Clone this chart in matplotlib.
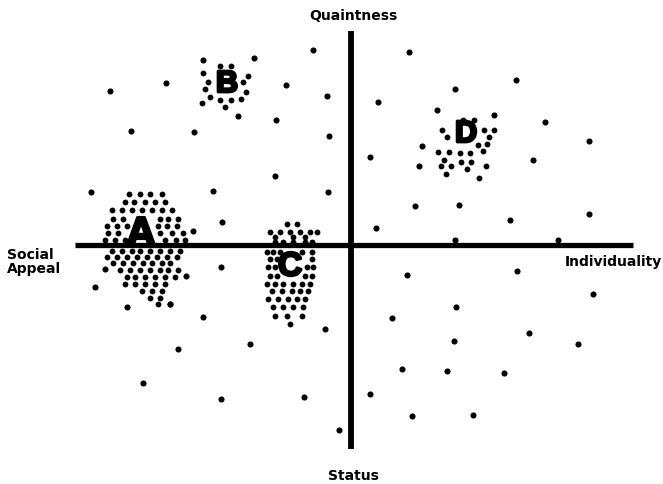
import numpy as np
import matplotlib.pyplot as plt
import matplotlib.patheffects as pe

# perceptual map, coordinates (pixel space, y down)
scatter_x = [110, 166, 203, 254, 313, 286, 327, 131, 194, 238, 276, 329, 91, 213, 275, 328, 222, 193,
             409, 516, 455, 378, 437, 494, 545, 589, 370, 422, 419, 533, 415, 459, 510, 589, 376, 455, 558,
             105, 95, 221, 186, 127, 170, 203, 178, 250, 325, 143, 221, 304, 339,
             407, 517, 593, 456, 392, 529, 578, 454, 402, 447, 504, 370, 412, 473]
scatter_y = [92, 84, 61, 59, 51, 86, 97, 132, 133, 117, 121, 137, 193, 192, 177, 193, 223, 232,
             53, 81, 90, 103, 111, 116, 123, 142, 158, 147, 167, 161, 207, 206, 221, 215, 229, 241, 241,
             270, 288, 268, 277, 308, 305, 318, 350, 345, 330, 384, 400, 398, 431,
             276, 272, 295, 308, 319, 334, 345, 342, 370, 372, 374, 395, 417, 416]

# cluster A, row by row
a_rows = {
    195: [129, 140, 150, 162],
    203: [125, 134, 145, 155, 165],
    211: [112, 122, 132, 142, 152, 162, 172],
    220: [113, 123, 160, 168, 178],
    227: [107, 117, 127, 158, 167, 177],
    234: [108, 118, 160, 172, 183],
    241: [105, 115, 125, 165, 176, 185],
    252: [112, 122, 132, 140, 150, 160, 170, 180],
    258: [107, 117, 127, 137, 147, 157, 167, 177],
    264: [113, 123, 133, 143, 152, 162, 170],
    271: [120, 130, 140, 150, 160, 168, 178],
    278: [127, 135, 145, 155, 165, 175],
    285: [125, 135, 145, 155, 165],
    292: [142, 152, 162],
    299: [150, 160],
    305: [158, 170],
}
# cluster B ring
b_x = [220, 231, 203, 248, 208, 243, 205, 246, 210, 220, 231, 241, 202, 225]
b_y = [67, 67, 74, 77, 83, 83, 90, 93, 98, 101, 101, 100, 104, 108]
# cluster C
c_rows = {
    225: [287, 297],
    233: [270, 280, 290, 300, 310, 317],
    238: [275, 293, 305],
    243: [275, 283, 293, 305, 312],
    253: [267, 273, 280, 302, 312],
    260: [270, 277, 312],
    268: [268, 275, 307, 313],
    277: [270, 277, 305, 312],
    285: [267, 275, 283, 293, 302, 310],
    292: [272, 282, 292, 300, 308],
    300: [268, 278, 288, 297, 305],
    308: [273, 283, 293, 303],
    317: [275, 287, 302],
    325: [290],
}
# cluster D
d_x = [442, 447, 484, 494, 489, 487, 478, 438, 449, 460, 470, 483, 444, 441, 451, 461, 471, 467, 486,
       446, 479, 463, 474]
d_y = [131, 138, 131, 131, 138, 145, 146, 153, 153, 154, 154, 152, 161, 167, 167, 163, 163, 170, 167,
       175, 179, 121, 121]

labels = ['A', 'B', 'C', 'D']
label_x = [141, 227, 290, 466]
label_y = [236, 85, 268, 135]
label_size = [30, 22, 24, 22]

fig = plt.figure(figsize=(6.63, 4.85), dpi=100)
ax = fig.add_axes([0, 0, 1, 1])
ax.set_xlim(0, 663)
ax.set_ylim(485, 0)
ax.axis('off')

ax.plot([75, 633], [246, 246], color='black', lw=3.8, solid_capstyle='butt')
ax.plot([351, 351], [32, 450], color='black', lw=4.2, solid_capstyle='butt')

ax.plot(scatter_x, scatter_y, 'o', color='black', ms=4.4, mec='none')

ax_pts = [(x, y) for y, xs in a_rows.items() for x in xs]
cx_pts = [(x, y) for y, xs in c_rows.items() for x in xs]
ax.plot([p[0] for p in ax_pts], [p[1] for p in ax_pts], 'o', color='black', ms=4.2, mec='none')
ax.plot([p[0] for p in cx_pts], [p[1] for p in cx_pts], 'o', color='black', ms=4.2, mec='none')
ax.plot(b_x, b_y, 'o', color='black', ms=4.2, mec='none')
ax.plot(d_x, d_y, 'o', color='black', ms=4.2, mec='none')

# letters are very heavy in the original, thicken with a stroke
for lab, x, y, s in zip(labels, label_x, label_y, label_size):
    ax.text(x, y, lab, fontsize=s, fontweight='bold', ha='center', va='center',
            family='Liberation Sans',
            path_effects=[pe.withStroke(linewidth=2, foreground='black')])

ax.text(353, 16, 'Quaintness', fontsize=10, fontweight='bold', ha='center', va='center')
ax.text(353, 476, 'Status', fontsize=10, fontweight='bold', ha='center', va='center')
ax.text(7, 262, 'Social\nAppeal', fontsize=10, fontweight='bold', ha='left', va='center',
        linespacing=0.95)
ax.text(662, 262, 'Individuality', fontsize=10, fontweight='bold', ha='right', va='center')

fig.savefig('out.png', dpi=100, facecolor='white')
